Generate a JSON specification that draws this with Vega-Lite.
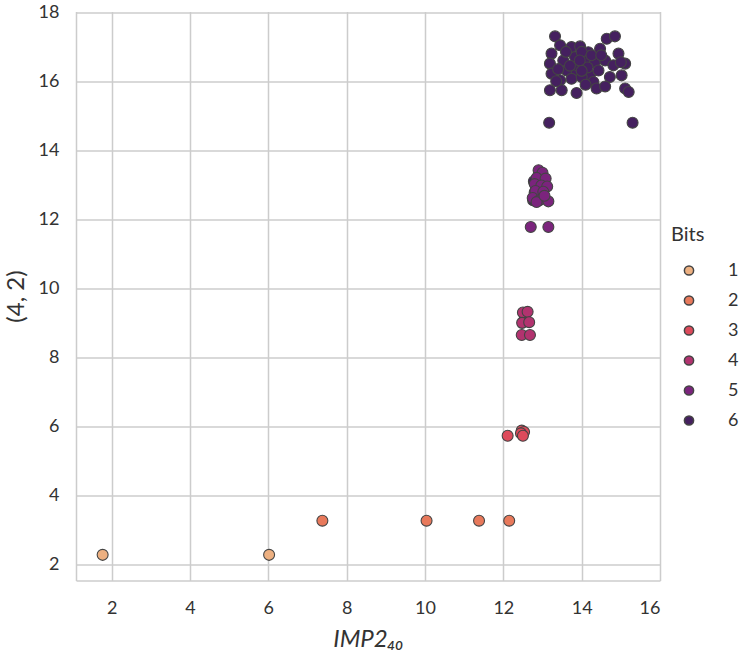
{
  "$schema": "https://vega.github.io/schema/vega-lite/v6.json",
  "width": 584,
  "height": 569,
  "autosize": {"type": "none"},
  "padding": {"left": 76, "top": 11.5, "right": 84, "bottom": 76.5},
  "background": "white",
  "config": {
    "view": {"stroke": null},
    "font": "Lato",
    "axis": {
      "gridColor": "#cccccc",
      "gridWidth": 1.5,
      "domainColor": "#cccccc",
      "domainWidth": 1.5,
      "ticks": false,
      "labelFontSize": 18,
      "labelColor": "#333333",
      "labelPadding": 17,
      "titleFontSize": 24,
      "titleFontWeight": "normal",
      "titleColor": "#333333"
    }
  },
  "data": {
    "values": [
      {"x": 1.77, "y": 2.28, "Bits": 1},
      {"x": 6.02, "y": 2.28, "Bits": 1},
      {"x": 7.38, "y": 3.27, "Bits": 2},
      {"x": 10.04, "y": 3.27, "Bits": 2},
      {"x": 11.38, "y": 3.27, "Bits": 2},
      {"x": 12.15, "y": 3.27, "Bits": 2},
      {"x": 12.11, "y": 5.73, "Bits": 3},
      {"x": 12.47, "y": 5.88, "Bits": 3},
      {"x": 12.53, "y": 5.84, "Bits": 3},
      {"x": 12.45, "y": 5.8, "Bits": 3},
      {"x": 12.5, "y": 5.73, "Bits": 3},
      {"x": 12.55, "y": 9.15, "Bits": 4},
      {"x": 12.5, "y": 9.3, "Bits": 4},
      {"x": 12.62, "y": 9.32, "Bits": 4},
      {"x": 12.48, "y": 9.0, "Bits": 4},
      {"x": 12.66, "y": 9.02, "Bits": 4},
      {"x": 12.47, "y": 8.65, "Bits": 4},
      {"x": 12.68, "y": 8.65, "Bits": 4},
      {"x": 12.76, "y": 12.55, "Bits": 6},
      {"x": 12.8, "y": 12.78, "Bits": 6},
      {"x": 12.78, "y": 13.1, "Bits": 6},
      {"x": 12.9, "y": 13.42, "Bits": 5},
      {"x": 13.0, "y": 13.35, "Bits": 5},
      {"x": 12.85, "y": 13.2, "Bits": 5},
      {"x": 13.08, "y": 13.18, "Bits": 5},
      {"x": 12.8, "y": 13.02, "Bits": 5},
      {"x": 12.97, "y": 12.98, "Bits": 5},
      {"x": 13.12, "y": 12.95, "Bits": 5},
      {"x": 12.82, "y": 12.82, "Bits": 5},
      {"x": 13.02, "y": 12.8, "Bits": 5},
      {"x": 12.75, "y": 12.62, "Bits": 5},
      {"x": 12.92, "y": 12.55, "Bits": 5},
      {"x": 13.15, "y": 12.52, "Bits": 5},
      {"x": 12.85, "y": 12.5, "Bits": 5},
      {"x": 13.05, "y": 12.68, "Bits": 5},
      {"x": 12.7, "y": 11.78, "Bits": 5},
      {"x": 13.15, "y": 11.78, "Bits": 5},
      {"x": 13.32, "y": 17.3, "Bits": 6},
      {"x": 13.45, "y": 17.04, "Bits": 6},
      {"x": 13.23, "y": 16.8, "Bits": 6},
      {"x": 13.74, "y": 16.99, "Bits": 6},
      {"x": 13.96, "y": 17.01, "Bits": 6},
      {"x": 14.17, "y": 16.84, "Bits": 6},
      {"x": 14.47, "y": 16.94, "Bits": 6},
      {"x": 14.64, "y": 17.23, "Bits": 6},
      {"x": 14.85, "y": 17.3, "Bits": 6},
      {"x": 14.94, "y": 16.8, "Bits": 6},
      {"x": 15.11, "y": 16.51, "Bits": 6},
      {"x": 13.19, "y": 16.51, "Bits": 6},
      {"x": 13.53, "y": 16.6, "Bits": 6},
      {"x": 13.83, "y": 16.7, "Bits": 6},
      {"x": 14.09, "y": 16.65, "Bits": 6},
      {"x": 14.34, "y": 16.55, "Bits": 6},
      {"x": 14.6, "y": 16.6, "Bits": 6},
      {"x": 14.81, "y": 16.46, "Bits": 6},
      {"x": 13.23, "y": 16.22, "Bits": 6},
      {"x": 13.62, "y": 16.31, "Bits": 6},
      {"x": 13.87, "y": 16.22, "Bits": 6},
      {"x": 14.21, "y": 16.17, "Bits": 6},
      {"x": 14.43, "y": 16.31, "Bits": 6},
      {"x": 14.72, "y": 16.12, "Bits": 6},
      {"x": 15.02, "y": 16.17, "Bits": 6},
      {"x": 13.45, "y": 16.03, "Bits": 6},
      {"x": 13.74, "y": 16.07, "Bits": 6},
      {"x": 14.0, "y": 16.12, "Bits": 6},
      {"x": 14.3, "y": 15.98, "Bits": 6},
      {"x": 13.19, "y": 15.74, "Bits": 6},
      {"x": 13.49, "y": 15.74, "Bits": 6},
      {"x": 13.87, "y": 15.66, "Bits": 6},
      {"x": 14.38, "y": 15.79, "Bits": 6},
      {"x": 15.11, "y": 15.79, "Bits": 6},
      {"x": 15.2, "y": 15.69, "Bits": 6},
      {"x": 13.6, "y": 16.85, "Bits": 6},
      {"x": 13.9, "y": 16.45, "Bits": 6},
      {"x": 14.0, "y": 16.85, "Bits": 6},
      {"x": 13.7, "y": 16.45, "Bits": 6},
      {"x": 14.15, "y": 16.4, "Bits": 6},
      {"x": 13.4, "y": 16.35, "Bits": 6},
      {"x": 13.95, "y": 16.6, "Bits": 6},
      {"x": 14.25, "y": 16.75, "Bits": 6},
      {"x": 14.5, "y": 16.75, "Bits": 6},
      {"x": 13.35, "y": 16.0, "Bits": 6},
      {"x": 14.1, "y": 15.9, "Bits": 6},
      {"x": 14.6, "y": 15.85, "Bits": 6},
      {"x": 15.0, "y": 16.55, "Bits": 6},
      {"x": 14.0, "y": 16.3, "Bits": 6},
      {"x": 13.17, "y": 14.8, "Bits": 6},
      {"x": 15.3, "y": 14.8, "Bits": 6}
    ]
  },
  "mark": {"type": "point", "filled": true, "shape": "circle", "size": 120, "opacity": 1, "stroke": "#444444", "strokeWidth": 1.1},
  "encoding": {
    "x": {
      "field": "x", "type": "quantitative",
      "scale": {"domain": [1.09, 16.0], "nice": false, "zero": false},
      "axis": {"values": [2, 4, 6, 8, 10, 12, 14, 16], "title": "IMP2₄₀", "titleFontStyle": "italic", "labelPadding": 19, "titlePadding": 10}
    },
    "y": {
      "field": "y", "type": "quantitative",
      "scale": {"domain": [1.537, 18.02], "nice": false, "zero": false},
      "axis": {"values": [2, 4, 6, 8, 10, 12, 14, 16, 18], "title": "(4, 2)", "titleX": -48}
    },
    "color": {
      "field": "Bits", "type": "ordinal",
      "scale": {"domain": [1, 2, 3, 4, 5, 6], "range": ["#edb081", "#e8795b", "#dd4a5b", "#b2336f", "#7b247d", "#45205f"]},
      "legend": {
        "orient": "none", "legendX": 595, "legendY": 213,
        "title": "Bits", "titleFontSize": 20, "titleFontWeight": "normal", "titleColor": "#333333", "titlePadding": 17,
        "labelFontSize": 18, "labelColor": "#333333", "labelOffset": 30,
        "symbolSize": 85, "symbolOffset": 9, "symbolType": "circle", "rowPadding": 12,
        "encode": {"symbols": {"update": {"strokeWidth": {"value": 0}, "opacity": {"value": 1}}}}
      }
    }
  }
}
